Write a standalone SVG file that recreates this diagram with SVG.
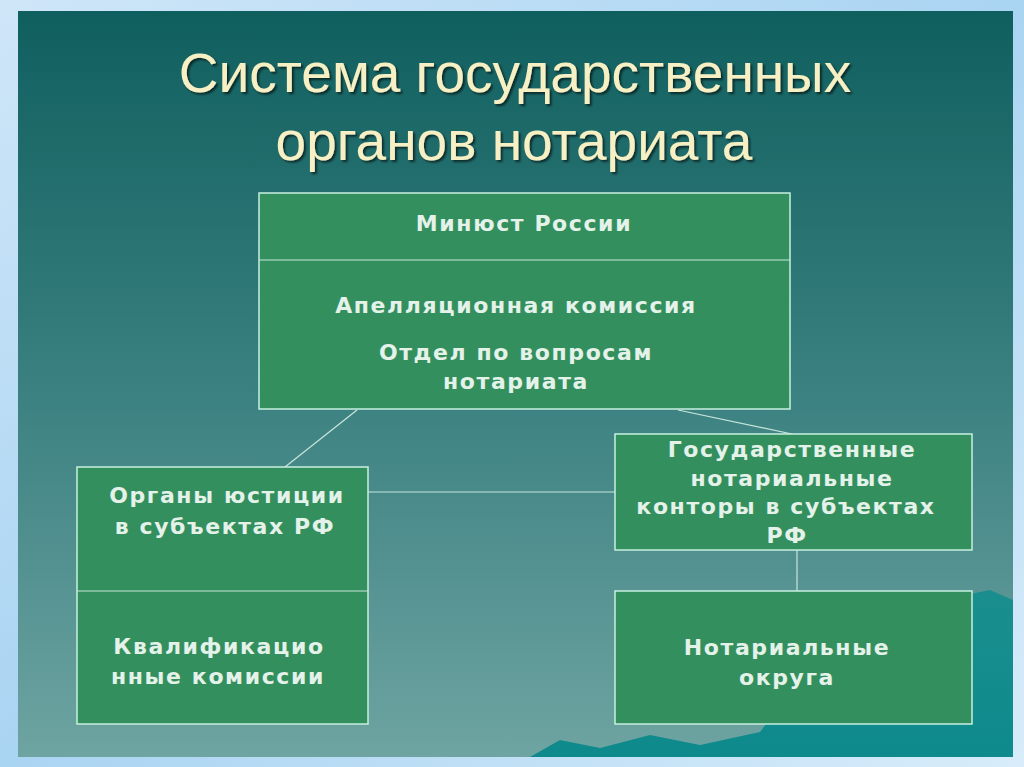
<svg xmlns="http://www.w3.org/2000/svg" width="1024" height="767" viewBox="0 0 1024 767">
<defs>
<linearGradient id="frame" x1="0" y1="0" x2="1" y2="1"><stop offset="0" stop-color="#cfe6f8"/><stop offset="0.5" stop-color="#a9d4f2"/><stop offset="1" stop-color="#d8ecfa"/></linearGradient>
<linearGradient id="bg" x1="0" y1="0" x2="0" y2="1"><stop offset="0" stop-color="#0f5f5e"/><stop offset="0.5" stop-color="#3a8080"/><stop offset="1" stop-color="#6ea4a2"/></linearGradient>
<linearGradient id="mt" x1="0" y1="0" x2="0" y2="1"><stop offset="0" stop-color="#1a8e8e"/><stop offset="1" stop-color="#0e8a8c"/></linearGradient>
<filter id="sh"><feDropShadow dx="2" dy="2" stdDeviation="1" flood-color="#000" flood-opacity="0.6"/></filter>
</defs>
<style>
.box{fill:#33905e;stroke:#c8efe0;stroke-width:1.5}
.t{font-family:"DejaVu Sans",Verdana,sans-serif;font-weight:bold;font-size:22px;letter-spacing:1.6px;fill:#e4f2ea;text-anchor:middle}
.title{font-family:"Liberation Sans",Arial,sans-serif;font-size:55px;fill:#f6f0c4;text-anchor:middle;filter:url(#sh)}
.c{stroke:#c8e6dc;stroke-width:1.2;fill:none}
</style>
<rect width="1024" height="767" fill="url(#frame)"/>
<rect x="18" y="11" width="995" height="746" fill="url(#bg)"/>
<path d="M530 757 L560 740 L600 748 L650 735 L700 745 L760 732 L830 640 L880 650 L940 600 L990 590 L1013 600 L1013 757 Z" fill="url(#mt)"/>
<text class="title" x="515" y="92">Система государственных</text>
<text class="title" x="514" y="160">органов нотариата</text>
<g id="connectors">
<line class="c" x1="357" y1="410" x2="285" y2="467"/>
<line class="c" x1="678" y1="410" x2="792" y2="434"/>
<line class="c" x1="368" y1="492" x2="615" y2="492"/>
<line class="c" x1="797" y1="550" x2="797" y2="591"/>
</g>
<g id="minjust">
<rect class="box" x="259" y="193" width="531" height="216"/>
<line class="c" x1="259" y1="260" x2="790" y2="260"/>
<text class="t" x="524" y="231">Минюст России</text>
<text class="t" x="516" y="313">Апелляционная комиссия</text>
<text class="t" x="516" y="360">Отдел по вопросам</text>
<text class="t" x="516" y="389">нотариата</text>
</g>
<g id="organs">
<rect class="box" x="77" y="467" width="291" height="257"/>
<line class="c" x1="77" y1="591" x2="368" y2="591"/>
<text class="t" x="227" y="503">Органы юстиции</text>
<text class="t" x="225" y="534">в субъектах РФ</text>
<text class="t" x="219" y="654">Квалификацио</text>
<text class="t" x="218" y="684">нные комиссии</text>
</g>
<g id="kontory">
<rect class="box" x="615" y="434" width="357" height="116"/>
<text class="t" x="792" y="457">Государственные</text>
<text class="t" x="792" y="486">нотариальные</text>
<text class="t" x="786" y="514">конторы в субъектах</text>
<text class="t" x="787" y="543">РФ</text>
</g>
<g id="okruga">
<rect class="box" x="615" y="591" width="357" height="133"/>
<text class="t" x="787" y="655">Нотариальные</text>
<text class="t" x="787" y="685">округа</text>
</g>
</svg>
